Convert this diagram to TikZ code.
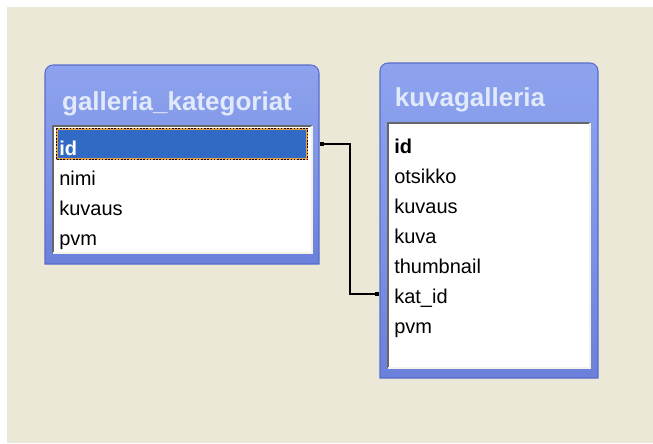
\documentclass[tikz,border=0pt]{standalone}
\usepackage{fontspec}
\setmainfont{Liberation Sans}
\definecolor{bgc}{HTML}{ECE8D8}
\definecolor{frameedge}{HTML}{5A6CCC}
\definecolor{frametop}{HTML}{8DA3EE}
\definecolor{framemid}{HTML}{7E95E6}
\definecolor{framebot}{HTML}{6A80DA}
\definecolor{titletext}{HTML}{E2E9FB}
\definecolor{hlblue}{HTML}{316AC5}
\definecolor{hlorange}{HTML}{E8A040}
\definecolor{boxlight}{HTML}{F4F2E8}
\begin{document}
\begin{tikzpicture}[x=0.75pt,y=-0.75pt,
  frame/.style={draw=frameedge, line width=0.8pt, top color=frametop, bottom color=framebot, middle color=framemid},
  titletxt/.style={anchor=base, text=titletext, font=\fontsize{19.5pt}{22pt}\selectfont\bfseries, inner sep=0pt},
  rowtxt/.style={anchor=base west, font=\fontsize{15pt}{18pt}\selectfont, inner sep=0pt, text=black},
  hlbox/.style={fill=hlblue, draw=hlorange, line width=1pt, minimum width=187.5pt, minimum height=22.5pt, inner sep=0pt},
  conn/.style={draw=black, line width=0.9pt},
  marker/.style={fill=black, minimum size=3.5pt, inner sep=0pt}]
\useasboundingbox (0,0) rectangle (653,443);
\fill[white] (0,0) rectangle (653,443);
\fill[bgc] (7,7) rectangle (653,443);

% ---- left table frame
\path[frame] (45,264) [rounded corners=6pt] -- (45,65) -- (319,65) [sharp corners] -- (319,264) -- cycle;
\node[titletxt] (ltitle) at (177,110) {galleria\_kategoriat};
\fill[white] (53,126) rectangle (312,253);
\draw[gray!80!black, line width=1.3pt] (53,253) -- (53,126) -- (312,126);
\draw[boxlight, line width=1.3pt] (312,126) -- (312,253) -- (53,253);

% selected row
\node[hlbox] (lidbox) at (182,144) {};
\draw[black, line width=1pt, dash pattern=on 1.2pt off 1.2pt] (lidbox.north west) rectangle (lidbox.south east);
\node[rowtxt, text=white, font=\fontsize{15pt}{18pt}\selectfont\bfseries] (lid) at (59,155) {id};
\node[rowtxt] (lnimi) at (59,185) {nimi};
\node[rowtxt] (lkuvaus) at (59,215) {kuvaus};
\node[rowtxt] (lpvm) at (59,245) {pvm};

% ---- right table frame
\path[frame] (380,378) [rounded corners=6pt] -- (380,63) -- (598,63) [sharp corners] -- (598,378) -- cycle;
\node[titletxt] (rtitle) at (470,106) {kuvagalleria};
\fill[white] (388,123) rectangle (590,368);
\draw[gray!80!black, line width=1.3pt] (388,368) -- (388,123) -- (590,123);
\draw[boxlight, line width=1.3pt] (590,123) -- (590,368) -- (388,368);

\node[rowtxt, font=\fontsize{15pt}{18pt}\selectfont\bfseries] (rid) at (394,153) {id};
\node[rowtxt] (rots) at (394,183) {otsikko};
\node[rowtxt] (rkuvaus) at (394,213) {kuvaus};
\node[rowtxt] (rkuva) at (394,243) {kuva};
\node[rowtxt] (rthumb) at (394,273) {thumbnail};
\node[rowtxt] (rkat) at (394,303) {kat\_id};
\node[rowtxt] (rpvm) at (394,333) {pvm};

% ---- relationship connector
\node[marker] (m1) at (322,144) {};
\node[marker] (m2) at (377,294) {};
\draw[conn] (m1.center) -- (350,144) |- (m2.center);
\end{tikzpicture}
\end{document}
